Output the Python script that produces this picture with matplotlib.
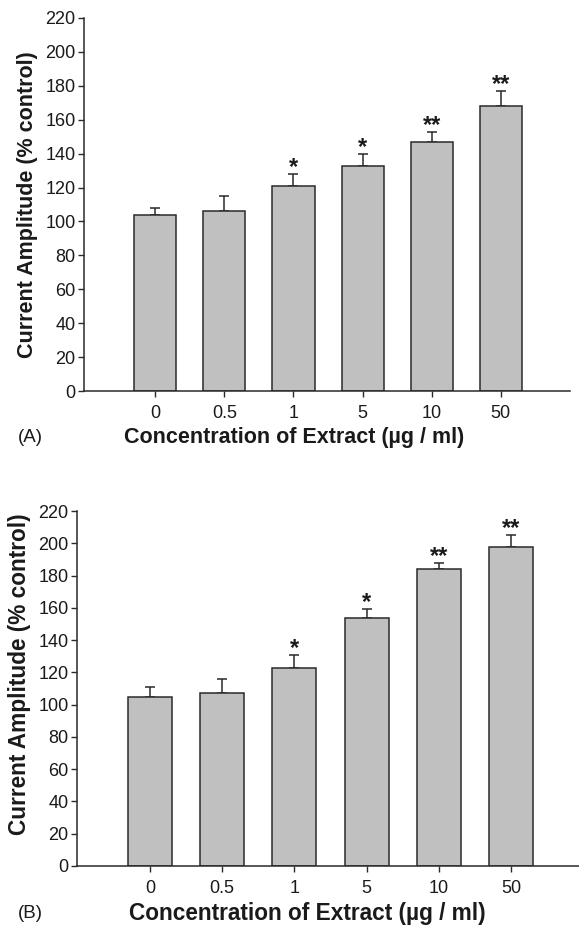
import matplotlib
matplotlib.use("Agg")
import matplotlib.pyplot as plt
import numpy as np

plt.rcParams['font.family'] = ['Liberation Sans', 'DejaVu Sans']

categories = ["0", "0.5", "1", "5", "10", "50"]
values_a = [104, 106, 121, 133, 147, 168]
errors_a = [4, 9, 7, 7, 6, 9]
stars_a = ["", "", "*", "*", "**", "**"]
values_b = [105, 107, 123, 154, 184, 198]
errors_b = [6, 9, 8, 5, 4, 7]
stars_b = ["", "", "*", "*", "**", "**"]
yticks = list(range(0, 221, 20))
ylabel = "Current Amplitude (% control)"
xlabel = "Concentration of Extract (\u00b5g / ml)"

W, H = 579, 932
fig = plt.figure(figsize=(W / 100, H / 100), dpi=100)

def draw(rect, vals, errs, stars, tag, xlim, ylab_x, ylab_y, xlab_x, xlab_y, lab_fs, tag_x):
    ax = fig.add_axes(rect)
    x = np.arange(len(categories))
    ax.bar(x, vals, width=0.61, color="#c0c0c0", edgecolor="#2a2a2a", linewidth=1.1, zorder=2)
    ax.errorbar(x, vals, yerr=[np.zeros(len(errs)), errs], fmt="none", ecolor="#2a2a2a",
                elinewidth=1.1, capsize=3.6, capthick=1.1, zorder=1)
    for xi, v, e, s in zip(x, vals, errs, stars):
        if s:
            ax.annotate(s, (xi, v + e), xytext=(0, 0), textcoords="offset points",
                        ha="center", va="baseline", fontsize=17, fontweight="bold", color="#1a1a1a")
    ax.set_xlim(*xlim)
    ax.set_ylim(0, 220)
    ax.set_yticks(yticks)
    ax.set_xticks(x)
    ax.set_xticklabels(categories)
    ax.spines["top"].set_visible(False)
    ax.spines["right"].set_visible(False)
    for sp in ("left", "bottom"):
        ax.spines[sp].set_linewidth(1.1)
        ax.spines[sp].set_color("#2a2a2a")
    ax.tick_params(axis="both", direction="out", length=4, width=1.0, colors="#2a2a2a",
                   labelsize=13, labelcolor="#1a1a1a")
    ax.tick_params(axis="x", pad=6)
    ax.tick_params(axis="y", pad=2)
    ax.set_ylabel(ylabel, fontsize=lab_fs, fontweight="bold", color="#1a1a1a")
    ax.yaxis.set_label_coords(ylab_x, ylab_y)
    ax.yaxis.label.set_va("center")
    ax.set_xlabel(xlabel, fontsize=lab_fs, fontweight="bold", color="#1a1a1a")
    ax.xaxis.set_label_coords(xlab_x, xlab_y)
    ax.xaxis.label.set_va("center")
    ax.text(tag_x, xlab_y, tag, transform=ax.transAxes, ha="left", va="center",
            fontsize=13.5, color="#1a1a1a")
    return ax

# Panel A
draw([84 / W, 1 - 391 / H, (570 - 84) / W, (391 - 18) / H], values_a, errors_a, stars_a,
     "(A)", (-1.03, 6.0), -0.117, 0.5, 0.432, -0.125, 15.5, -0.137)
# Panel B
draw([77 / W, 1 - 866 / H, (579 - 77) / W, (866 - 511) / H], values_b, errors_b, stars_b,
     "(B)", (-1.01, 5.94), -0.114, 0.54, 0.458, -0.135, 16.3, -0.118)

fig.savefig("out.png", dpi=100)
